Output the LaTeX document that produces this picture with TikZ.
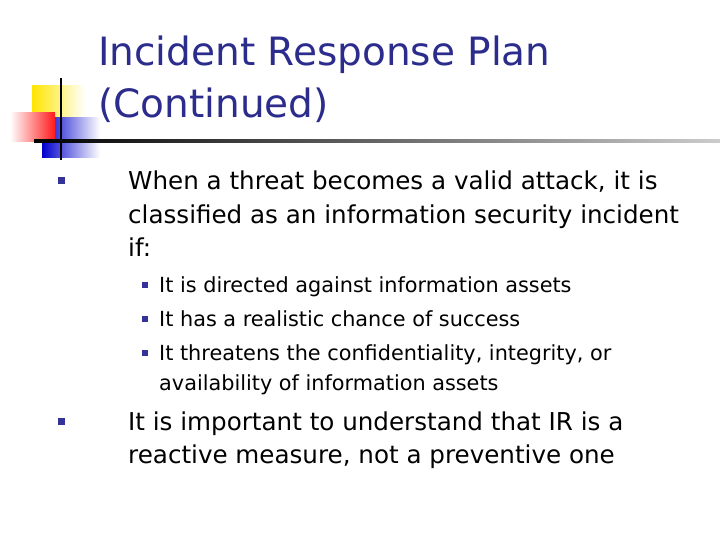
\documentclass[tikz,border=0pt]{standalone}
\usepackage{fontspec}
\setmainfont{DejaVu Sans}
\definecolor{navy}{RGB}{51,51,153}
\definecolor{ttl}{RGB}{44,44,140}
\begin{document}
\begin{tikzpicture}[x=1pt,y=-1pt,
  body/.style={anchor=base west,inner sep=0pt,font=\fontsize{24.6}{33}\selectfont},
  sub/.style={anchor=base west,inner sep=0pt,font=\fontsize{20.8}{30}\selectfont},
  bul/.style={fill=navy,minimum size=7pt,inner sep=0pt}]
\useasboundingbox (0,0) rectangle (720,540);
\fill[white] (0,0) rectangle (720,540);
% logo
\shade[left color=yellow!80!orange,right color=white] (32,86) rectangle (85,120);
\shade[left color=blue!80!black,right color=white] (42,118) rectangle (100,158);
\shade[right color=red!90,left color=white] (10,113) rectangle (55,142);
\draw[line width=2.5pt] (61,78) -- (61,160);
\shade[left color=black,right color=gray!40] (34,140) rectangle (720,142.5);
% title
\node[anchor=base west,inner sep=0pt,text=ttl,font=\fontsize{39}{46}\selectfont] (t1) at (98,66) {Incident Response Plan};
\node[anchor=base west,inner sep=0pt,text=ttl,font=\fontsize{39}{46}\selectfont] (t2) at (98,118) {(Continued)};
% bullets
\node[bul] (b1) at (61,181) {};
\node[body] (l1) at (128,190) {When a threat becomes a valid attack, it is};
\node[body] (l2) at (128,223) {classified as an information security incident};
\node[body] (l3) at (128,256) {if:};
\node[bul,minimum size=6pt] (s1) at (145,285) {};
\node[bul,minimum size=6pt] (s2) at (145,319) {};
\node[bul,minimum size=6pt] (s3) at (145,353) {};
\node[sub] (m1) at (159,292) {It is directed against information assets};
\node[sub] (m2) at (159,326) {It has a realistic chance of success};
\node[sub] (m3) at (159,360) {It threatens the confidentiality, integrity, or};
\node[sub] (m4) at (159,390) {availability of information assets};
\node[bul] (b2) at (61,421) {};
\node[body] (n1) at (128,430) {It is important to understand that IR is a};
\node[body] (n2) at (128,463) {reactive measure, not a preventive one};
\end{tikzpicture}
\end{document}
